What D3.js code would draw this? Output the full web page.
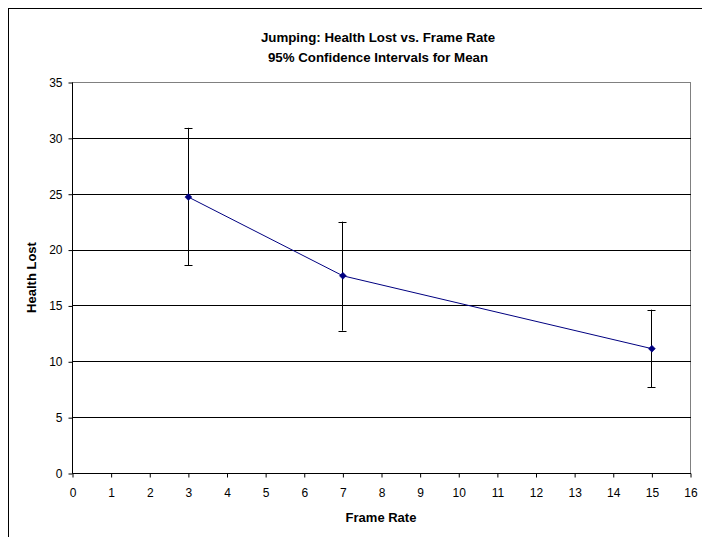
<!DOCTYPE html>
<html>
<head>
<meta charset="utf-8">
<script src="https://cdn.jsdelivr.net/npm/d3@7"></script>
<style>
  html, body { margin: 0; padding: 0; background: #fff; }
  svg { display: block; }
  text { font-family: "Liberation Sans", Arial, sans-serif; }
</style>
</head>
<body>
<svg id="chart" width="702" height="537"></svg>
<script>
// Data
const frameRates = [3, 7, 15];
const meanHealthLost = [24.7, 17.65, 11.13];
const upperCI = [30.9, 22.5, 14.62];
const lowerCI = [18.6, 12.74, 7.68];
const xTicks = d3.range(0, 17, 1);
const yTicks = [0, 5, 10, 15, 20, 25, 30, 35];
const titleLines = ["Jumping: Health Lost vs. Frame Rate", "95% Confidence Intervals for Mean"];
const xLabel = "Frame Rate";
const yLabel = "Health Lost";

const svg = d3.select("#chart");
const W = 702, H = 537;
const plot = { left: 72, right: 690, top: 82, bottom: 473 };

const x = d3.scaleLinear().domain([0, 16]).range([plot.left, plot.right]);
const y = d3.scaleLinear().domain([0, 35]).range([plot.bottom, plot.top]);

// outer chart border
svg.append("rect")
  .attr("x", 8.5).attr("y", 8.5)
  .attr("width", W + 10).attr("height", H + 10)
  .attr("fill", "#fff").attr("stroke", "#000").attr("stroke-width", 1);

// plot area border (grey)
svg.append("rect")
  .attr("x", plot.left + 0.5).attr("y", plot.top + 0.5)
  .attr("width", plot.right - plot.left).attr("height", plot.bottom - plot.top)
  .attr("fill", "#fff").attr("stroke", "#808080").attr("stroke-width", 1);

// gridlines
svg.append("g").selectAll("line")
  .data(yTicks.filter(d => d > 0 && d < 35))
  .join("line")
  .attr("x1", plot.left).attr("x2", plot.right + 1)
  .attr("y1", d => Math.round(y(d)) + 0.5).attr("y2", d => Math.round(y(d)) + 0.5)
  .attr("stroke", "#000").attr("stroke-width", 1);

// axes
const xAxis = d3.axisBottom(x).tickValues(xTicks).tickSize(4).tickPadding(11).tickFormat(d3.format("d"));
const gx = svg.append("g")
  .attr("transform", `translate(0.5,${plot.bottom + 0.5})`)
  .call(xAxis);
gx.select(".domain").attr("stroke", "#000").attr("d", `M${plot.left},0H${plot.right + 0.5}`);
gx.selectAll(".tick line").attr("stroke", "#000");
gx.selectAll(".tick text").attr("font-size", "12px").attr("fill", "#000")
  .attr("font-family", '"Liberation Sans", Arial, sans-serif');

const yAxis = d3.axisLeft(y).tickValues(yTicks).tickSize(4).tickPadding(6);
const gy = svg.append("g")
  .attr("transform", `translate(${plot.left + 0.5},0.5)`)
  .call(yAxis);
gy.select(".domain").attr("stroke", "#000").attr("d", `M0,${plot.top}V${plot.bottom}`);
gy.selectAll(".tick line").attr("stroke", "#000");
gy.selectAll(".tick text").attr("font-size", "12px").attr("fill", "#000")
  .attr("font-family", '"Liberation Sans", Arial, sans-serif');

// error bars
const eb = svg.append("g").attr("stroke", "#000").attr("stroke-width", 1);
frameRates.forEach((fr, i) => {
  const cx = Math.round(x(fr)) + 0.5;
  eb.append("line").attr("x1", cx).attr("x2", cx)
    .attr("y1", y(upperCI[i])).attr("y2", y(lowerCI[i]));
  eb.append("line").attr("x1", cx - 4).attr("x2", cx + 4)
    .attr("y1", Math.round(y(upperCI[i])) + 0.5).attr("y2", Math.round(y(upperCI[i])) + 0.5);
  eb.append("line").attr("x1", cx - 4).attr("x2", cx + 4)
    .attr("y1", Math.round(y(lowerCI[i])) + 0.5).attr("y2", Math.round(y(lowerCI[i])) + 0.5);
});

// line
const line = d3.line().x((d, i) => x(frameRates[i]) + 0.5).y(d => y(d));
svg.append("path")
  .datum(meanHealthLost)
  .attr("d", line)
  .attr("fill", "none").attr("stroke", "#000080").attr("stroke-width", 1);

// markers (diamonds)
svg.append("g").selectAll("path")
  .data(meanHealthLost)
  .join("path")
  .attr("transform", (d, i) => `translate(${x(frameRates[i]) + 0.5},${y(d)})`)
  .attr("d", "M0,-3.5L3.5,0L0,3.5L-3.5,0Z")
  .attr("fill", "#000080").attr("stroke", "#000080").attr("stroke-width", 0.5);

// titles
const cxTitle = 378;
svg.append("text")
  .attr("x", cxTitle).attr("y", 42)
  .attr("text-anchor", "middle").attr("font-size", "13.3px").attr("font-weight", "bold")
  .text(titleLines[0]);
svg.append("text")
  .attr("x", cxTitle).attr("y", 62)
  .attr("text-anchor", "middle").attr("font-size", "13.3px").attr("font-weight", "bold")
  .text(titleLines[1]);

// axis labels
svg.append("text")
  .attr("x", (plot.left + plot.right) / 2).attr("y", 522)
  .attr("text-anchor", "middle").attr("font-size", "13px").attr("font-weight", "bold")
  .text(xLabel);
svg.append("text")
  .attr("transform", `translate(36,${(plot.top + plot.bottom) / 2}) rotate(-90)`)
  .attr("text-anchor", "middle").attr("font-size", "13px").attr("font-weight", "bold")
  .text(yLabel);
</script>
</body>
</html>
